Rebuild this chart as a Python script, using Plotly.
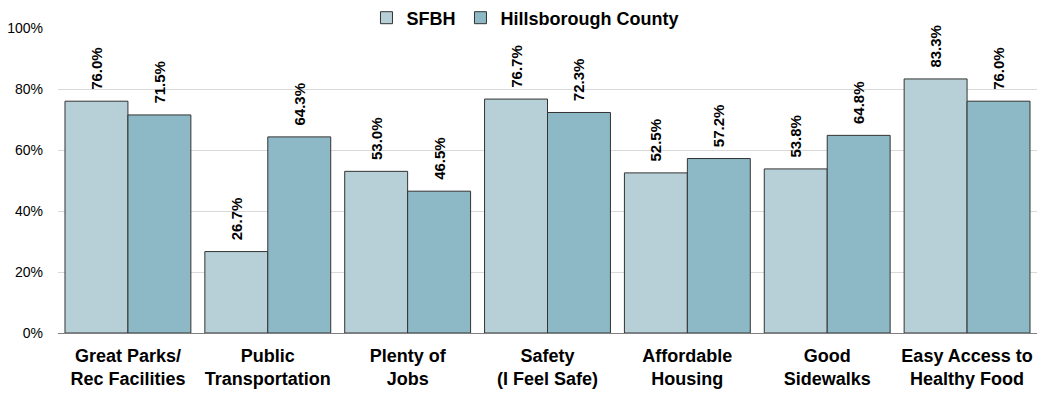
import plotly.graph_objects as go

categories = [
    "Great Parks/<br>Rec Facilities",
    "Public<br>Transportation",
    "Plenty of<br>Jobs",
    "Safety<br>(I Feel Safe)",
    "Affordable<br>Housing",
    "Good<br>Sidewalks",
    "Easy Access to<br>Healthy Food",
]
sfbh = [76.0, 26.7, 53.0, 76.7, 52.5, 53.8, 83.3]
hillsborough = [71.5, 64.3, 46.5, 72.3, 57.2, 64.8, 76.0]
y_ticks = [0, 20, 40, 60, 80, 100]
y_tick_labels = ["0%", "20%", "40%", "60%", "80%", "100%"]

FONT = "Liberation Sans Narrow, Arial Narrow, Liberation Sans, Arial"

fig = go.Figure()
for name, vals, color in [
    ("SFBH", sfbh, "#B7CFD6"),
    ("Hillsborough County", hillsborough, "#8DB8C6"),
]:
    fig.add_trace(go.Bar(
        name=name,
        x=categories,
        y=vals,
        marker=dict(color=color, line=dict(color="#333333", width=1)),
        text=[f"\u00a0\u00a0{v:.1f}%" for v in vals],
        textposition="outside",
        textangle=-90,
        textfont=dict(family=FONT, size=15, color="#000000", weight="bold"),
        cliponaxis=False,
    ))

fig.update_layout(
    width=1039,
    height=400,
    margin=dict(l=58, r=2, t=28, b=67, autoexpand=False),
    paper_bgcolor="white",
    plot_bgcolor="white",
    barmode="group",
    bargap=0.1,
    bargroupgap=0,
    showlegend=True,
    legend=dict(
        orientation="h",
        x=0.477, xanchor="center",
        yref="container",
        y=0.955, yanchor="middle",
        font=dict(family=FONT, size=18, color="#000000", weight="bold"),
        itemwidth=30,
        bgcolor="rgba(0,0,0,0)",
    ),
    xaxis=dict(
        tickfont=dict(family=FONT, size=18, color="#000000", weight="bold"),
        showline=True,
        linecolor="#7F7F7F",
        linewidth=1,
        ticks="",
        ticklabelstandoff=6,
    ),
    yaxis=dict(
        range=[0, 100],
        tickvals=y_ticks,
        ticktext=y_tick_labels,
        tickfont=dict(family=FONT, size=14, color="#000000"),
        showgrid=True,
        gridcolor="#D9D9D9",
        zeroline=False,
        showline=False,
        ticks="",
        ticklabelstandoff=14,
    ),
)

fig.write_html("out.html")
